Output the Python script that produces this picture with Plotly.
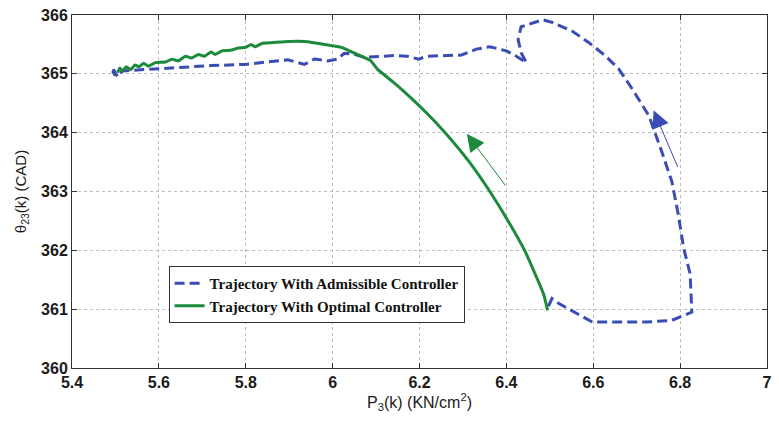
import plotly.graph_objects as go

# Admissible controller trajectory (blue dashed)
adm_x = [6.497, 6.505, 6.52, 6.598, 6.65, 6.72, 6.781, 6.827, 6.823, 6.808, 6.796, 6.781,
         6.758, 6.728, 6.69, 6.659, 6.629, 6.59, 6.553, 6.507, 6.484, 6.461, 6.434, 6.427,
         6.434, 6.446, 6.423, 6.4, 6.362, 6.331, 6.297, 6.263, 6.217, 6.198, 6.171, 6.141,
         6.095, 6.072, 6.05, 6.027, 6.011, 5.989, 5.958, 5.935, 5.897, 5.85, 5.798, 5.72,
         5.669, 5.592, 5.516, 5.505, 5.495, 5.5, 5.493]
adm_y = [361.05, 361.18, 361.1, 360.78, 360.78, 360.78, 360.81, 360.95, 361.6, 362.04, 362.6, 363.17,
         363.67, 364.29, 364.74, 365.08, 365.3, 365.53, 365.72, 365.87, 365.92, 365.87, 365.8, 365.58,
         365.36, 365.19, 365.30, 365.39, 365.46, 365.42, 365.32, 365.31, 365.3, 365.25, 365.3, 365.31,
         365.29, 365.28, 365.33, 365.35, 365.25, 365.22, 365.25, 365.16, 365.24, 365.2, 365.16, 365.14,
         365.12, 365.09, 365.05, 364.95, 365.08, 364.97, 365.05]

# Optimal controller trajectory (green solid)
opt_x = [6.495, 6.486, 6.469, 6.442, 6.404, 6.362, 6.315, 6.259, 6.217, 6.179, 6.141, 6.103,
         6.088, 6.057, 6.03, 6.02, 5.989, 5.936, 5.9, 5.882, 5.859, 5.838, 5.821, 5.813, 5.80,
         5.783, 5.765, 5.745, 5.73, 5.72, 5.705, 5.691, 5.675, 5.661, 5.645, 5.63, 5.615, 5.592,
         5.575, 5.565, 5.554, 5.545, 5.535, 5.525, 5.516, 5.51, 5.505]
opt_y = [360.98, 361.25, 361.55, 362.0, 362.5, 363.0, 363.5, 364.0, 364.33, 364.6, 364.85, 365.08,
         365.22, 365.33, 365.42, 365.45, 365.49, 365.55, 365.55, 365.54, 365.53, 365.52, 365.46, 365.5, 365.45,
         365.44, 365.4, 365.39, 365.33, 365.37, 365.3, 365.33, 365.27, 365.3, 365.22, 365.25, 365.2, 365.19,
         365.13, 365.18, 365.12, 365.15, 365.07, 365.12, 365.05, 365.1, 365.02]

x_ticks = [5.4, 5.6, 5.8, 6.0, 6.2, 6.4, 6.6, 6.8, 7.0]
x_tick_labels = ["5.4", "5.6", "5.8", "6", "6.2", "6.4", "6.6", "6.8", "7"]
y_ticks = [360, 361, 362, 363, 364, 365, 366]

# Direction arrows: (tail_x, tail_y, tip_x, tip_y)
arrow_opt = (6.4, 363.08, 6.309, 363.98)
arrow_adm = (6.796, 363.39, 6.739, 364.38)

BLUE = "#3b4cb4"
GREEN = "#1b8a3a"

fig = go.Figure()
fig.add_trace(go.Scatter(x=adm_x, y=adm_y, mode="lines", name="Trajectory With Admissible Controller",
                         line=dict(color=BLUE, width=3, dash="10px,5px")))
fig.add_trace(go.Scatter(x=opt_x, y=opt_y, mode="lines", name="Trajectory With Optimal Controller",
                         line=dict(color=GREEN, width=3, shape="spline", smoothing=0.4)))

for (tx, ty, hx, hy), col in [(arrow_opt, GREEN), (arrow_adm, BLUE)]:
    fig.add_annotation(x=hx, y=hy, ax=tx, ay=ty, xref="x", yref="y", axref="x", ayref="y",
                       text="", showarrow=True, arrowhead=2, arrowsize=3.5, arrowwidth=1,
                       arrowcolor=col)

axis_common = dict(showline=True, linecolor="#333333", linewidth=1, mirror="ticks",
                   ticks="inside", ticklen=5, tickcolor="#333333",
                   showgrid=True, gridcolor="#bbbbbb", griddash="dot", gridwidth=1,
                   zeroline=False,
                   tickfont=dict(family="Liberation Sans, Arial", size=16, color="#1a1a1a", weight="bold"))

fig.update_xaxes(range=[5.4, 7.0], tickvals=x_ticks, ticktext=x_tick_labels,
                 title=dict(text="P<sub>3</sub>(k) (KN/cm<sup>2</sup>)", standoff=4,
                            font=dict(family="Liberation Sans, Arial", size=16, color="#1a1a1a")),
                 **axis_common)
fig.update_yaxes(range=[360, 366], tickvals=y_ticks,
                 title=dict(text="θ<sub>23</sub>(k) (CAD)", standoff=10,
                            font=dict(family="Liberation Sans, Arial", size=15, color="#1a1a1a")),
                 **axis_common)

fig.update_layout(
    width=779, height=421,
    margin=dict(l=72, r=7, t=12, b=53),
    plot_bgcolor="white", paper_bgcolor="white",
    showlegend=True,
    legend=dict(x=0.139, y=0.289, xanchor="left", yanchor="top",
                bgcolor="white", bordercolor="#333333", borderwidth=1,
                font=dict(family="Liberation Serif, Times New Roman", size=15, color="#111111", weight="bold"),
                itemwidth=30, tracegroupgap=0),
)

fig.write_html("out.html")
